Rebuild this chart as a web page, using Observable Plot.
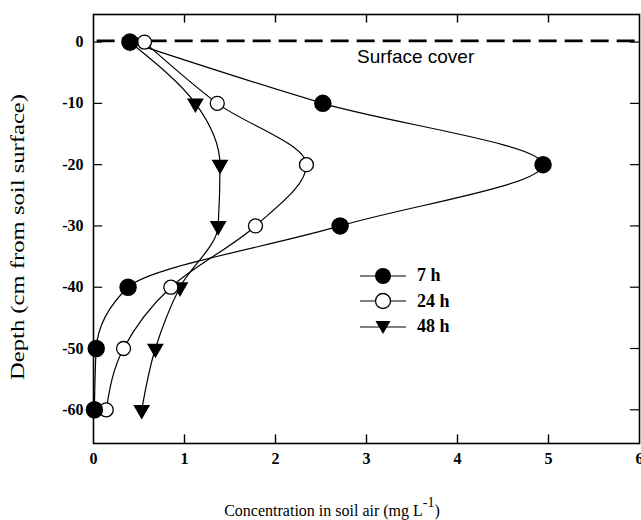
<!DOCTYPE html>
<html><head><meta charset="utf-8">
<script src="https://cdn.jsdelivr.net/npm/d3@7"></script>
<script src="https://cdn.jsdelivr.net/npm/@observablehq/plot@0.6"></script>
<style>
body{margin:0;background:#fff;}
#wrap{position:relative;width:641px;height:520px;}
.leg{position:absolute;left:358px;top:263px;font-family:"Liberation Serif",serif;font-weight:bold;font-size:18px;}
.leg div{display:flex;align-items:center;height:25.5px;}
.leg span{margin-left:9px;}
</style></head>
<body><div id="wrap"></div>
<script>
const depth = [0, -10, -20, -30, -40, -50, -60];
const conc7h = [0.40, 2.52, 4.94, 2.71, 0.38, 0.03, 0.01];
const conc24h = [0.56, 1.36, 2.34, 1.78, 0.85, 0.33, 0.14];
const conc48h = [0.40, 1.12, 1.39, 1.37, 0.95, 0.68, 0.53];
const seriesNames = ["7 h", "24 h", "48 h"];
const xTicks = [0, 1, 2, 3, 4, 5, 6];
const yTicks = [0, -10, -20, -30, -40, -50, -60];
const xDomain = [0, 6];
const yDomain = [-65.5, 4.5];
const surfaceLevel = [0.2];

const mk = (vals, s) => vals.map((v, i) => ({conc: v, depth: depth[i], series: s}));
const d7 = mk(conc7h, seriesNames[0]);
const d24 = mk(conc24h, seriesNames[1]);
const d48 = mk(conc48h, seriesNames[2]);

const lineOpts = {x: "conc", y: "depth", curve: "monotone-y", stroke: "black", strokeWidth: 1.2};
const xIn = 0.1, yIn = 1.4; // inward tick lengths in data units

const chart = Plot.plot({
  width: 641, height: 520,
  marginLeft: 93, marginRight: 2, marginTop: 14, marginBottom: 77,
  style: {fontFamily: "'Liberation Serif', serif", fontSize: "16px", fontWeight: "bold", color: "black"},
  x: {domain: xDomain, ticks: xTicks, tickFormat: d => String(d), label: null, tickSize: 0, tickPadding: 9},
  y: {domain: yDomain, ticks: yTicks, tickFormat: d => String(d), label: null, tickSize: 0, tickPadding: 10},
  marks: [
    Plot.frame({stroke: "black", strokeWidth: 1.6}),
    Plot.ruleX(xTicks.slice(1, -1), {x: d => d, y1: yDomain[0], y2: yDomain[0] + yIn, stroke: "black", strokeWidth: 1.4}),
    Plot.ruleX(xTicks.slice(1, -1), {x: d => d, y1: yDomain[1], y2: yDomain[1] - yIn, stroke: "black", strokeWidth: 1.4}),
    Plot.ruleY(yTicks, {y: d => d, x1: xDomain[0], x2: xDomain[0] + xIn, stroke: "black", strokeWidth: 1.2}),
    Plot.ruleY(yTicks, {y: d => d, x1: xDomain[1], x2: xDomain[1] - xIn, stroke: "black", strokeWidth: 1.2}),
    Plot.ruleY(surfaceLevel, {stroke: "black", strokeWidth: 2.6, strokeDasharray: "18,8", x1: 0.04, x2: xDomain[1]}),
    Plot.text(["Surface cover"], {x: 3.54, y: -2.4, text: d => d, fontFamily: "'Liberation Sans', Arial, sans-serif", fontWeight: "normal", fontSize: 19}),
    Plot.line(d7, lineOpts),
    Plot.line(d24, lineOpts),
    Plot.line(d48, lineOpts),
    Plot.dot(d48, {x: "conc", y: "depth", symbol: "triangle", rotate: 180, r: 5.3, fill: "black", stroke: "black"}),
    Plot.dot(d24, {x: "conc", y: "depth", symbol: "circle", r: 7, fill: "white", stroke: "black", strokeWidth: 1.3}),
    Plot.dot(d7, {x: "conc", y: "depth", symbol: "circle", r: 8, fill: "black", stroke: "black"})
  ]
});

const wrap = document.getElementById("wrap");
wrap.appendChild(chart);
const svg = d3.select(chart);

// Axis titles
svg.append("text")
  .attr("transform", "translate(20,237) rotate(-90)")
  .attr("text-anchor", "middle")
  .attr("font-family", "'Liberation Serif', serif")
  .attr("font-size", 19).attr("font-weight", "normal")
  .attr("dominant-baseline", "middle")
  .attr("textLength", 286).attr("lengthAdjust", "spacingAndGlyphs")
  .text("Depth (cm from soil surface)");

const xl = svg.append("text")
  .attr("x", 332).attr("y", 516)
  .attr("text-anchor", "middle")
  .attr("font-family", "'Liberation Serif', serif")
  .attr("font-size", 16).attr("font-weight", "normal");
xl.append("tspan").text("Concentration in soil air (mg L");
xl.append("tspan").attr("dy", -9).attr("font-size", 14).text("-1");
xl.append("tspan").attr("dy", 9).text(")");

// Legend (HTML)
const leg = document.createElement("div");
leg.className = "leg";
const syms = [
  '<circle cx="25" cy="12" r="8" fill="black"/>',
  '<circle cx="25" cy="12" r="7.5" fill="white" stroke="black" stroke-width="1.3"/>',
  '<path d="M17.5,6 L32.5,6 L25,19 Z" fill="black"/>'
];
seriesNames.forEach((n, i) => {
  const row = document.createElement("div");
  row.innerHTML = `<svg width="50" height="24"><line x1="2" x2="48" y1="12" y2="12" stroke="black" stroke-width="1.2"/>${syms[i]}</svg><span>${n}</span>`;
  leg.appendChild(row);
});
wrap.appendChild(leg);
</script>
</body></html>
